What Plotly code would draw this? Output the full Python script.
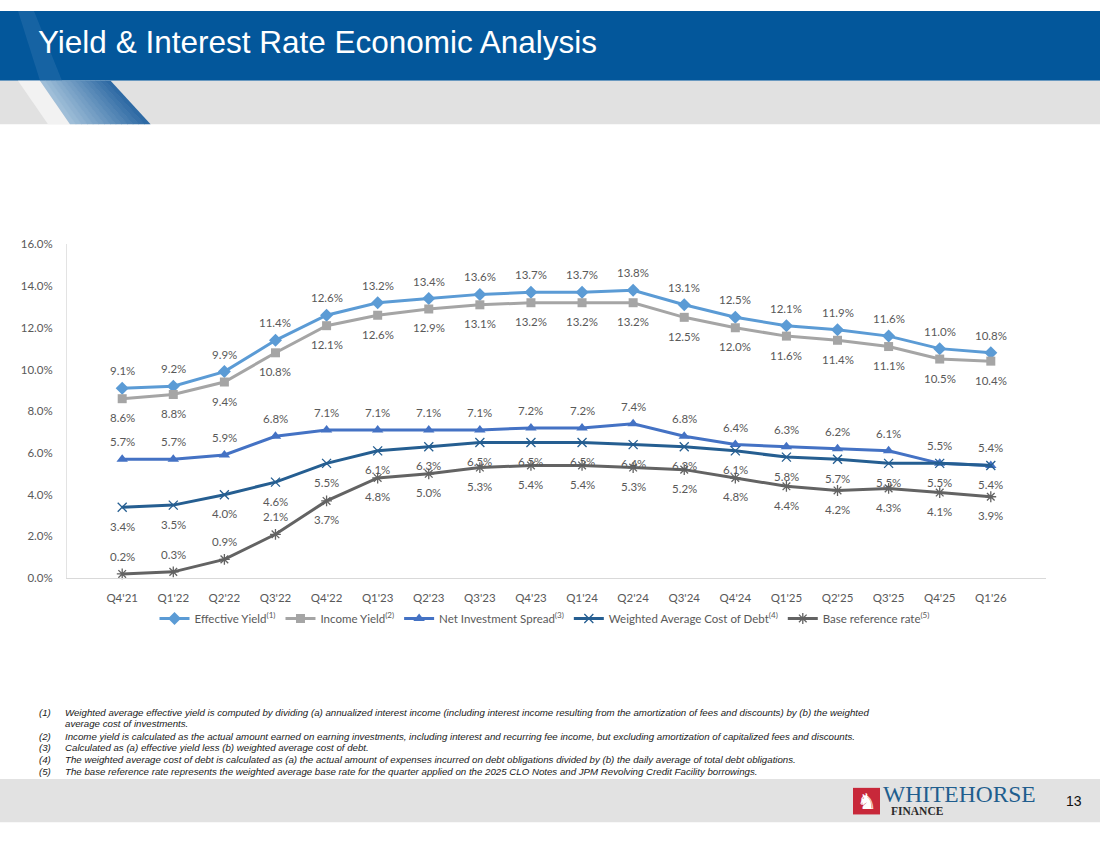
import plotly.graph_objects as go

W, H = 1100, 849

quarters = ["Q4'21", "Q1'22", "Q2'22", "Q3'22", "Q4'22", "Q1'23", "Q2'23", "Q3'23", "Q4'23",
            "Q1'24", "Q2'24", "Q3'24", "Q4'24", "Q1'25", "Q2'25", "Q3'25", "Q4'25", "Q1'26"]
effective_yield = [9.1, 9.2, 9.9, 11.4, 12.6, 13.2, 13.4, 13.6, 13.7, 13.7, 13.8, 13.1, 12.5, 12.1, 11.9, 11.6, 11.0, 10.8]
income_yield = [8.6, 8.8, 9.4, 10.8, 12.1, 12.6, 12.9, 13.1, 13.2, 13.2, 13.2, 12.5, 12.0, 11.6, 11.4, 11.1, 10.5, 10.4]
net_investment_spread = [5.7, 5.7, 5.9, 6.8, 7.1, 7.1, 7.1, 7.1, 7.2, 7.2, 7.4, 6.8, 6.4, 6.3, 6.2, 6.1, 5.5, 5.4]
wacd = [3.4, 3.5, 4.0, 4.6, 5.5, 6.1, 6.3, 6.5, 6.5, 6.5, 6.4, 6.3, 6.1, 5.8, 5.7, 5.5, 5.5, 5.4]
base_rate = [0.2, 0.3, 0.9, 2.1, 3.7, 4.8, 5.0, 5.3, 5.4, 5.4, 5.3, 5.2, 4.8, 4.4, 4.2, 4.3, 4.1, 3.9]
y_ticks = [0, 2, 4, 6, 8, 10, 12, 14, 16]

title_text = "Yield & Interest Rate Economic Analysis"
footnotes = [
    ("(1)", "Weighted average effective yield is computed by dividing (a) annualized interest income (including interest income resulting from the amortization of fees and discounts) by (b) the weighted"),
    ("", "average cost of investments."),
    ("(2)", "Income yield is calculated as the actual amount earned on earning investments, including interest and recurring fee income, but excluding amortization of capitalized fees and discounts."),
    ("(3)", "Calculated as (a) effective yield less (b) weighted average cost of debt."),
    ("(4)", "The weighted average cost of debt is calculated as (a) the actual amount of expenses incurred on debt obligations divided by (b) the daily average of total debt obligations."),
    ("(5)", "The base reference rate represents the weighted average base rate for the quarter applied on the 2025 CLO Notes and JPM Revolving Credit Facility borrowings."),
]

LABEL_FONT = dict(family="Lato", size=11.5, color="#595959")
ABOVE, BELOW = 17.5, -19


def px(x):
    return x / W


def py(y):
    return 1 - y / H


fig = go.Figure()

series = [
    ("Effective Yield<sup>(1)</sup>", effective_yield, "#5B9BD5", "diamond", 10, [ABOVE] * 18),
    ("Income Yield<sup>(2)</sup>", income_yield, "#A5A5A5", "square", 9, [BELOW] * 18),
    ("Net Investment Spread<sup>(3)</sup>", net_investment_spread, "#4472C4", "triangle-up", 10, [ABOVE] * 18),
    ("Weighted Average Cost of Debt<sup>(4)</sup>", wacd, "#255E91", "x-thin", 9, [BELOW] * 18),
    ("Base reference rate<sup>(5)</sup>", base_rate, "#636363", "asterisk", 9, [ABOVE] * 4 + [BELOW] * 14),
]

annotations = []
for name, vals, color, sym, size, shifts in series:
    marker = dict(symbol=sym, size=size, color=color)
    if sym in ("x-thin", "asterisk"):
        marker["line"] = dict(color=color, width=1.3)
    fig.add_trace(go.Scatter(
        x=quarters, y=vals, name=name, mode="lines+markers",
        line=dict(color=color, width=3), marker=marker,
        cliponaxis=False, hoverinfo="skip",
    ))
    for q, v, s in zip(quarters, vals, shifts):
        annotations.append(dict(text=f"{v:.1f}%", x=q, y=v, xref="x", yref="y", yshift=s,
                                xanchor="center", yanchor="middle", showarrow=False,
                                font=LABEL_FONT))

shapes = []
shapes.append(dict(type="rect", xref="paper", yref="paper", x0=0, x1=1, y0=py(75), y1=py(4),
                   fillcolor="#03579B", line_width=0, layer="below"))
shapes.append(dict(type="rect", xref="paper", yref="paper", x0=0, x1=1, y0=py(119), y1=py(75),
                   fillcolor="#E1E1E1", line_width=0, layer="below"))
shapes.append(dict(type="path", xref="paper", yref="paper",
                   path=f"M {px(18)},{py(4)} L {px(34)},{py(4)} L {px(62)},{py(75)} L {px(40)},{py(75)} Z",
                   fillcolor="#2A6FAB", opacity=0.5, line_width=0, layer="below"))
shapes.append(dict(type="path", xref="paper", yref="paper",
                   path=f"M {px(18)},{py(75)} L {px(40)},{py(75)} L {px(70)},{py(119)} L {px(48)},{py(119)} Z",
                   fillcolor="#F2F2F2", line_width=0, layer="below"))
# gradient parallelogram, decorative slices
c0, c1 = (0xA4, 0xC2, 0xDA), (0x2A, 0x67, 0xA2)
n = 14
for i in range(n):
    t0, t1 = i / n, (i + 1) / n
    tm = (t0 + t1) / 2
    col = "#%02X%02X%02X" % tuple(int(a + (b - a) * tm) for a, b in zip(c0, c1))
    xt0, xt1 = 40 + 70 * t0, 40 + 70 * t1
    xb0, xb1 = 70 + 80 * t0, 70 + 80 * t1
    shapes.append(dict(type="path", xref="paper", yref="paper",
                       path=f"M {px(xt0)},{py(75)} L {px(xt1 + 0.6)},{py(75)} L {px(xb1 + 0.6)},{py(119)} L {px(xb0)},{py(119)} Z",
                       fillcolor=col, line_width=0, layer="below"))
shapes.append(dict(type="rect", xref="paper", yref="paper", x0=0, x1=1, y0=py(828), y1=py(784),
                   fillcolor="#E2E2E2", line_width=0, layer="below"))
shapes.append(dict(type="rect", xref="paper", yref="paper", x0=px(853), x1=px(880), y0=py(820), y1=py(793),
                   fillcolor="#C8283A", line_width=0))

annotations.append(dict(text=title_text, x=px(36), y=py(36), xref="paper", yref="paper",
                        xanchor="left", yanchor="middle", showarrow=False,
                        font=dict(family="Liberation Sans", size=31.5, color="white")))

foot_y = [716, 728, 741, 752, 764, 776]
FOOT_FONT = dict(family="Liberation Sans", size=9.7, color="#1A1A1A")
for (num, txt), yy in zip(footnotes, foot_y):
    if num:
        annotations.append(dict(text=f"<i>{num}</i>", x=px(37), y=py(yy), xref="paper", yref="paper",
                                xanchor="left", yanchor="middle", showarrow=False, font=FOOT_FONT))
    annotations.append(dict(text=f"<i>{txt}</i>", x=px(63), y=py(yy), xref="paper", yref="paper",
                            xanchor="left", yanchor="middle", showarrow=False, font=FOOT_FONT))

annotations.append(dict(text="♞", x=px(866.5), y=py(806.5), xref="paper", yref="paper",
                        xanchor="center", yanchor="middle", showarrow=False,
                        font=dict(family="DejaVu Sans", size=22, color="white")))
annotations.append(dict(text="WHITEHORSE", x=px(881), y=py(799), xref="paper", yref="paper",
                        xanchor="left", yanchor="middle", showarrow=False,
                        font=dict(family="Liberation Serif", size=23.5, color="#1F5E8E")))
annotations.append(dict(text="<b>FINANCE</b>", x=px(889), y=py(817), xref="paper", yref="paper",
                        xanchor="left", yanchor="middle", showarrow=False,
                        font=dict(family="Liberation Serif", size=11.5, color="#2B2B2B")))
annotations.append(dict(text="13", x=px(1074), y=py(806.5), xref="paper", yref="paper",
                        xanchor="center", yanchor="middle", showarrow=False,
                        font=dict(family="Liberation Sans", size=14, color="#111111")))

fig.update_layout(
    width=W, height=H,
    margin=dict(l=0, r=0, t=0, b=0),
    paper_bgcolor="white", plot_bgcolor="white",
    showlegend=True,
    legend=dict(orientation="h", x=0.495, xanchor="center", y=py(621), yanchor="middle",
                font=dict(family="Lato", size=11.5, color="#595959"), itemwidth=30,
                bgcolor="rgba(0,0,0,0)", tracegroupgap=0, itemclick=False),
    xaxis=dict(domain=[px(67), px(1046)], showgrid=False, showline=True, linecolor="#D9D9D9",
               linewidth=1, ticks="", tickfont=dict(family="Lato", size=11.5, color="#595959"),
               ticklabelstandoff=9, fixedrange=True),
    yaxis=dict(domain=[py(580), py(241)], range=[0, 16], tickvals=y_ticks,
               ticktext=[f"{v:.1f}%" for v in y_ticks], showgrid=False, zeroline=False,
               showline=True, linecolor="#E3E3E3", linewidth=1, ticks="",
               tickfont=dict(family="Lato", size=11.5, color="#595959"), ticklabelstandoff=11,
               fixedrange=True),
    shapes=shapes,
    annotations=annotations,
)

fig.write_html("out.html")
